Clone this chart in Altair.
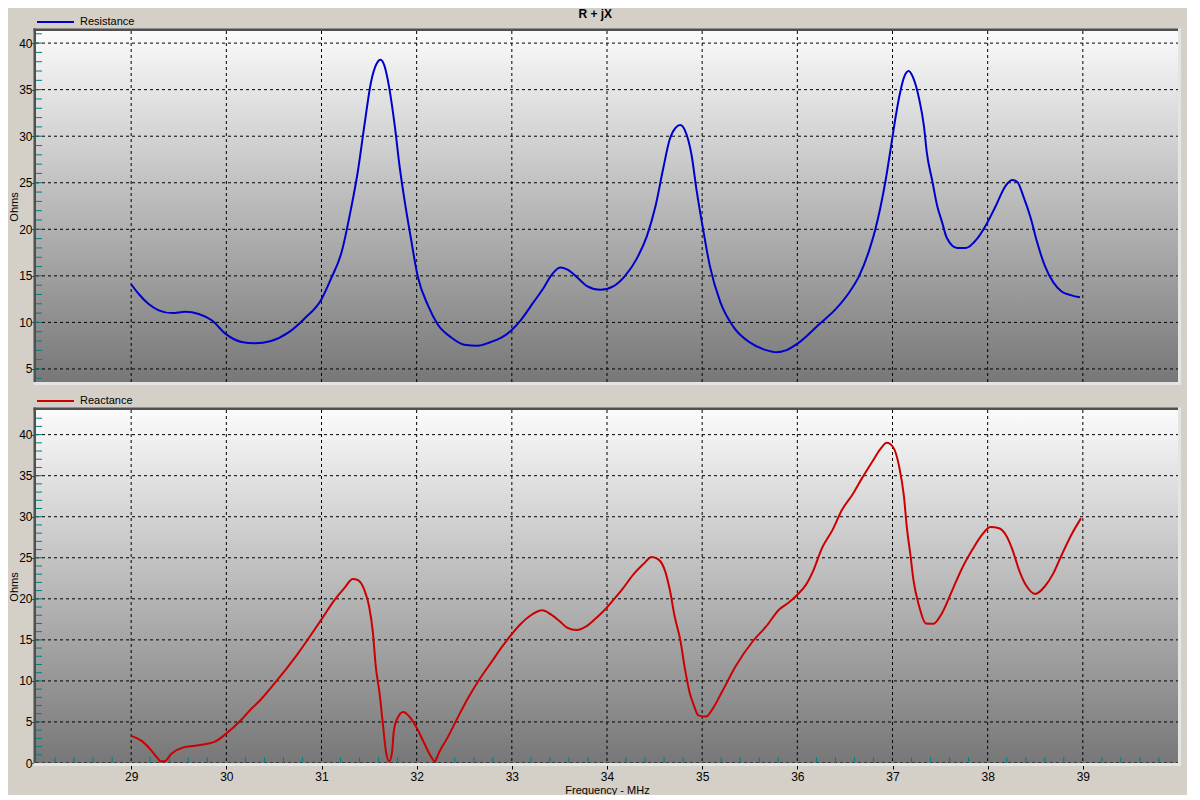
import altair as alt
import pandas as pd

# ---------------- data ----------------
freq_r = [29.0, 29.08, 29.18, 29.29, 29.43, 29.57, 29.71, 29.85, 29.99, 30.16,
          30.30, 30.47, 30.65, 30.82, 31.0, 31.1, 31.21, 31.31, 31.38, 31.45,
          31.52, 31.58, 31.62, 31.66, 31.71, 31.77, 31.82, 31.87, 31.94, 32.01,
          32.12, 32.22, 32.36, 32.5, 32.64, 32.78, 32.88, 32.99, 33.09, 33.23,
          33.34, 33.41, 33.51, 33.58, 33.69, 33.79, 33.93, 34.07, 34.19, 34.31,
          34.42, 34.51, 34.59, 34.66, 34.72, 34.77, 34.82, 34.89, 34.94, 35.01,
          35.08, 35.19, 35.33, 35.5, 35.68, 35.78, 35.88, 36.02, 36.23, 36.41,
          36.55, 36.65, 36.76, 36.82, 36.87, 36.93, 36.98, 37.03, 37.08, 37.12,
          37.17, 37.22, 37.28, 37.33, 37.36, 37.42, 37.47, 37.52, 37.57, 37.68,
          37.77, 37.89, 37.99, 38.08, 38.19, 38.26, 38.31, 38.38, 38.45, 38.52,
          38.6, 38.69, 38.78, 38.88, 38.97]
resistance = [14.1, 13.05, 12.0, 11.3, 11.0, 11.15, 10.9, 10.2, 8.8, 7.9,
              7.75, 8.0, 8.9, 10.4, 12.5, 14.7, 17.5, 22.2, 26.1, 31.1,
              35.8, 37.8, 38.2, 37.6, 35.3, 31.1, 26.8, 23.3, 19.0, 15.0,
              11.8, 9.8, 8.4, 7.6, 7.5, 7.9, 8.3, 9.1, 10.2, 12.2,
              13.8, 15.0, 15.9, 15.7, 14.8, 13.9, 13.5, 13.9, 15.0, 16.8,
              19.3, 22.5, 26.5, 29.7, 30.9, 31.2, 30.6, 27.9, 24.3, 20.0,
              16.1, 12.2, 9.5, 7.85, 7.0, 6.8, 7.0, 7.85, 9.8, 11.5,
              13.3, 15.0, 17.9, 20.0, 22.2, 25.4, 28.6, 31.9, 34.7, 36.3,
              37.0, 36.2, 34.0, 31.1, 28.3, 25.1, 22.5, 20.8, 19.1, 18.0,
              18.0, 19.0, 20.6, 22.4, 24.7, 25.3, 25.1, 23.4, 21.3, 18.6,
              16.1, 14.3, 13.3, 12.9, 12.7]

freq_x = [29.0, 29.11, 29.2, 29.27, 29.31, 29.35, 29.42, 29.55, 29.67, 29.88,
          30.0, 30.16, 30.23, 30.36, 30.5, 30.75, 31.0, 31.14, 31.24, 31.33,
          31.38, 31.45, 31.5, 31.54, 31.57, 31.61, 31.64, 31.68, 31.71, 31.74,
          31.76, 31.8, 31.86, 31.92, 31.99, 32.08, 32.15, 32.19, 32.24, 32.32,
          32.43, 32.53, 32.66, 32.78, 32.9, 33.0, 33.09, 33.2, 33.32, 33.41,
          33.5, 33.58, 33.68, 33.79, 33.89, 33.98, 34.07, 34.17, 34.28, 34.38,
          34.47, 34.54, 34.61, 34.66, 34.71, 34.77, 34.82, 34.87, 34.91, 34.96,
          35.04, 35.11, 35.21, 35.35, 35.53, 35.67, 35.81, 35.91, 36.0, 36.09,
          36.17, 36.26, 36.37, 36.47, 36.58, 36.68, 36.79, 36.87, 36.94, 37.01,
          37.07, 37.12, 37.15, 37.19, 37.22, 37.28, 37.35, 37.43, 37.52, 37.63,
          37.73, 37.84, 37.94, 38.03, 38.12, 38.19, 38.26, 38.33, 38.4, 38.5,
          38.6, 38.69, 38.78, 38.88, 38.98]
reactance = [3.3, 2.7, 1.7, 0.7, 0.2, 0.2, 1.1, 1.9, 2.1, 2.6,
             3.6, 5.3, 6.2, 7.7, 9.6, 13.3, 17.5, 19.9, 21.3, 22.4,
             22.3, 21.1, 19.1, 15.9, 11.8, 8.5, 5.3, 1.2, 0.2, 1.2,
             3.9, 5.5, 6.2, 5.7, 4.5, 2.4, 0.8, 0.2, 1.4, 3.0,
             5.5, 7.7, 10.2, 12.2, 14.2, 15.7, 16.9, 18.0, 18.6, 18.1,
             17.3, 16.5, 16.2, 16.7, 17.7, 18.7, 19.9, 21.3, 23.0, 24.2,
             25.1, 24.8, 23.4, 21.1, 17.9, 15.0, 11.4, 8.5, 7.1, 5.8,
             5.65, 6.6, 8.7, 11.75, 14.8, 16.6, 18.7, 19.55, 20.5, 21.7,
             23.5, 26.2, 28.4, 30.85, 32.7, 34.7, 36.75, 38.2, 39.0, 38.4,
             36.1, 32.5, 28.8, 25.2, 22.3, 19.1, 17.0, 16.95, 18.25, 21.1,
             23.7, 26.0, 27.8, 28.75, 28.6, 27.8, 26.0, 23.5, 21.7, 20.6,
             21.5, 23.1, 25.4, 27.8, 29.8]

# axis tick positions
x_major = [29, 30, 31, 32, 33, 34, 35, 36, 37, 38, 39]
x_minor = [round(28 + 0.2 * i, 1) for i in range(1, 60) if i % 5 != 0]
y_major_r = [5, 10, 15, 20, 25, 30, 35, 40]
y_minor_r = list(range(4, 42))
y_major_x = [0, 5, 10, 15, 20, 25, 30, 35, 40]
y_minor_x = list(range(1, 43))

# ---------------- styling ----------------
W = 1142
H_TOP = 351
H_BOT = 353
FONT = "Liberation Sans"
BG = "#D4D0C8"
TEAL = "#008080"

one = pd.DataFrame({"k": [0]})


def panel(freq, vals, color, label, ydom, ymaj, ymin, H, bottom):
    xs = alt.Scale(domain=[28, 40], nice=False, zero=False)
    ys = alt.Scale(domain=ydom, nice=False, zero=False)
    if bottom:
        xax = alt.Axis(values=x_major, format="d", title="Frequency - MHz",
                       grid=False, domain=False, ticks=True, tickSize=6,
                       tickColor="black", tickWidth=1, labelPadding=2,
                       titlePadding=2, labelFont=FONT, labelFontSize=12,
                       labelColor="black", titleFont=FONT, titleFontSize=11,
                       titleFontWeight="normal", titleColor="black")
    else:
        xax = None
    yax = alt.Axis(values=ymaj, format="d", title="Ohms", grid=False,
                   domain=False, tickSize=4, tickColor="black", tickWidth=1,
                   labelPadding=0, titleX=-17, labelFont=FONT,
                   labelFontSize=12, labelColor="black", titleFont=FONT,
                   titleFontSize=11, titleFontWeight="normal",
                   titleColor="black")
    X = alt.X("x:Q", scale=xs, axis=xax)
    Y = alt.Y("y:Q", scale=ys, axis=yax)

    bg = alt.Chart(one).mark_rect(
        fill=alt.LinearGradient(
            gradient="linear",
            stops=[alt.GradientStop(color="#FBFBFB", offset=0),
                   alt.GradientStop(color="#777777", offset=1)],
            x1=0, x2=0, y1=0, y2=1),
        strokeWidth=0,
    ).encode(x=alt.value(0), x2=alt.value(W), y=alt.value(0), y2=alt.value(H))

    hgrid = alt.Chart(pd.DataFrame({"y": ymaj})).mark_rule(
        color="black", strokeDash=[3, 3], strokeWidth=1
    ).encode(y=Y, x=alt.value(0), x2=alt.value(W))

    vgrid = alt.Chart(pd.DataFrame({"x": x_major})).mark_rule(
        color="black", strokeDash=[3, 3], strokeWidth=1
    ).encode(x=X, y=alt.value(0), y2=alt.value(H))

    yminor = alt.Chart(pd.DataFrame({"y": ymin})).mark_rule(
        color=TEAL, strokeWidth=1
    ).encode(y=Y, x=alt.value(0), x2=alt.value(6))

    layers = [bg, hgrid, vgrid, yminor]
    if bottom:
        xminor = alt.Chart(pd.DataFrame({"x": x_minor})).mark_rule(
            color=TEAL, strokeWidth=1
        ).encode(x=X, y=alt.value(H - 6), y2=alt.value(H))
        layers.append(xminor)

    line = alt.Chart(pd.DataFrame({"x": freq, "y": vals})).mark_line(
        color=color, strokeWidth=2, interpolate="monotone"
    ).encode(x=X, y=Y)
    layers.append(line)

    dark = "#505050"
    light = "#E4E4E4"
    layers += [
        alt.Chart(one).mark_rule(color=dark, strokeWidth=2.5).encode(
            x=alt.value(-1.25), y=alt.value(-2.5), y2=alt.value(H)),
        alt.Chart(one).mark_rule(color=dark, strokeWidth=2.5).encode(
            y=alt.value(-1.25), x=alt.value(-2.5), x2=alt.value(W)),
        alt.Chart(one).mark_rule(color=light, strokeWidth=3).encode(
            y=alt.value(H + 1.5), x=alt.value(-2.5), x2=alt.value(W + 3)),
        alt.Chart(one).mark_rule(color=light, strokeWidth=3).encode(
            x=alt.value(W + 1.5), y=alt.value(-2.5), y2=alt.value(H + 3)),
        alt.Chart(one).mark_rule(color=color, strokeWidth=2).encode(
            x=alt.value(1), x2=alt.value(38), y=alt.value(-9)),
        alt.Chart(one).mark_text(
            text=label, align="left", baseline="middle", font=FONT,
            fontSize=11, color="black"
        ).encode(x=alt.value(44), y=alt.value(-9)),
    ]
    return alt.layer(*layers).properties(width=W, height=H)


top = panel(freq_r, resistance, "#0000CC", "Resistance", [3.6, 41.3],
            y_major_r, y_minor_r, H_TOP, False)
bottom = panel(freq_x, reactance, "#CC0000", "Reactance", [0, 43],
               y_major_x, y_minor_x, H_BOT, True)

chart = alt.vconcat(top, bottom, spacing=8).resolve_scale(
    x="independent", y="independent"
).properties(
    title=alt.TitleParams(text="R + jX", font=FONT, fontSize=12,
                          fontWeight="bold", color="black", anchor="middle",
                          offset=-5),
    padding={"left": 0, "top": 0, "right": 4, "bottom": 0},
).configure(background=BG).configure_view(strokeWidth=0)

chart.save("out.html", embed_options={"renderer": "svg", "actions": False})
